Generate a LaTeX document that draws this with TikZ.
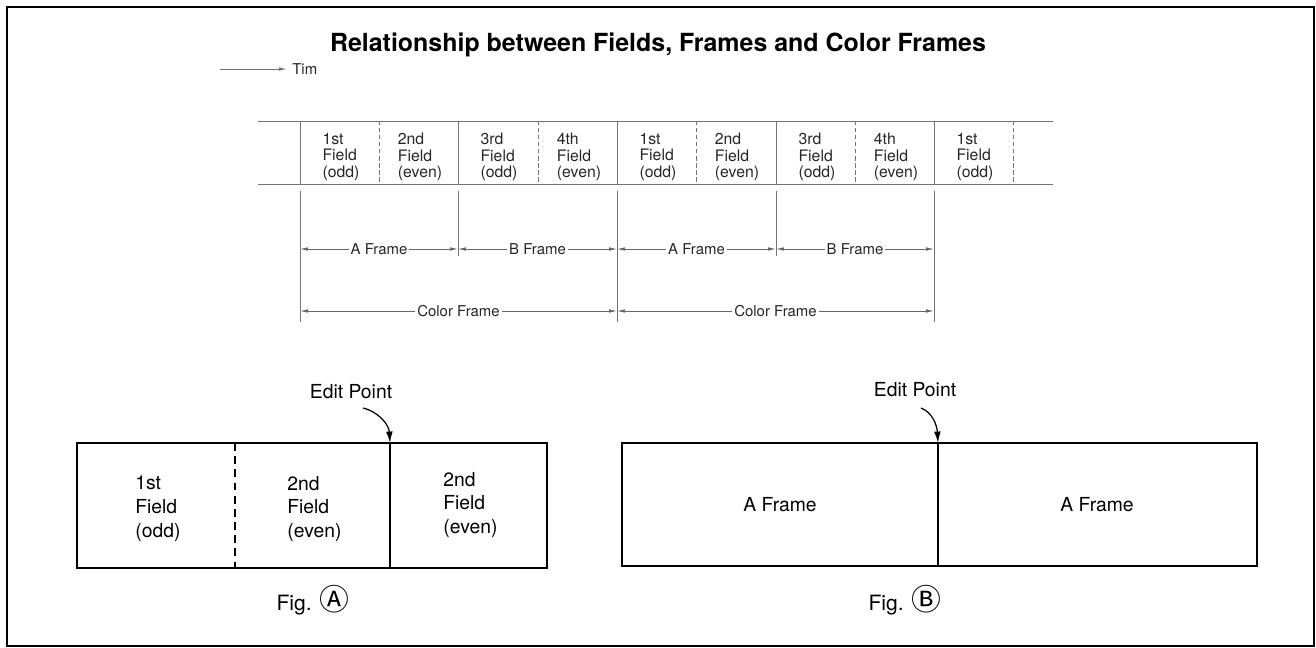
\documentclass[tikz,border=0pt]{standalone}
\usepackage{fontspec}
\setmainfont{TeX Gyre Heros}
\newfontfamily\circfont{Noto Sans CJK SC}
\usetikzlibrary{arrows.meta}
\begin{document}
\begin{tikzpicture}
    [
    x=0.02cm, y=-0.02cm,
    strip/.style={draw=black!55, line width=0.5pt},
    half/.style={draw=black!55, line width=0.5pt, dash pattern=on 2.5pt off 1.5pt},
    fieldtxt/.style={font=\fontsize{9}{9.2}\selectfont, align=left, text=black!85, inner sep=0pt},
    dimline/.style={draw=black!60, line width=0.45pt, {Latex[length=4.5pt,width=2pt]}-{Latex[length=4.5pt,width=2pt]}},
    dimtxt/.style={fill=white, inner sep=1.2pt, font=\fontsize{8.5}{10}\selectfont, text=black!85},
    box/.style={draw, line width=1.1pt},
    boxtxt/.style={font=\fontsize{11}{13.6}\selectfont, align=left, inner sep=0pt},
    editarrow/.style={line width=0.7pt, -{Latex[length=6.5pt,width=3.8pt]}},
    caption/.style={font=\fontsize{12}{14}\selectfont}
    ]
    \useasboundingbox (0,0) rectangle (1316,648);
    \draw [line width=1.2pt] (7,7) rectangle (1314,646);

    \node (title) at (658,45) [font=\bfseries\fontsize{14.2}{16}\selectfont] {Relationship between Fields, Frames and Color Frames};

    % time axis
    \coordinate (t0) at (220,69);
    \node (tim) at (292,69) [anchor=west, dimtxt, inner sep=0pt] {Tim};
    \draw [strip, -{Latex[length=4.5pt,width=2pt]}] (t0) to ([xshift=-1mm]tim.west);

    % field strip
    \draw [strip] (258,121) -- (1053,121);
    \draw [strip] (258,184) -- (1053,184);
    \draw [strip] (300,121) -- (300,184);
    \draw [strip] (458,121) -- (458,184);
    \draw [strip] (617,121) -- (617,184);
    \draw [strip] (776,121) -- (776,184);
    \draw [strip] (934,121) -- (934,184);
    \draw [half] (379,121) -- (379,184);
    \draw [half] (538,121) -- (538,184);
    \draw [half] (696,121) -- (696,184);
    \draw [half] (855,121) -- (855,184);
    \draw [half] (1013,121) -- (1013,184);

    \node (f1) at (341,157) [fieldtxt] {1st\\Field\\(odd)};
    \node (f2) at (420,157) [fieldtxt] {2nd\\Field\\(even)};
    \node (f3) at (499,157) [fieldtxt] {3rd\\Field\\(odd)};
    \node (f4) at (579,157) [fieldtxt] {4th\\Field\\(even)};
    \node (f5) at (658,157) [fieldtxt] {1st\\Field\\(odd)};
    \node (f6) at (737,157) [fieldtxt] {2nd\\Field\\(even)};
    \node (f7) at (817,157) [fieldtxt] {3rd\\Field\\(odd)};
    \node (f8) at (896,157) [fieldtxt] {4th\\Field\\(even)};
    \node (f9) at (975,157) [fieldtxt] {1st\\Field\\(odd)};

    % frame boundaries
    \draw [strip] (300,191) -- (300,322);
    \draw [strip] (458,191) -- (458,256);
    \draw [strip] (617,191) -- (617,322);
    \draw [strip] (776,191) -- (776,256);
    \draw [strip] (934,191) -- (934,322);

    \coordinate (d0) at (300,249);
    \coordinate (d1) at (458,249);
    \coordinate (d2) at (617,249);
    \coordinate (d3) at (776,249);
    \coordinate (d4) at (934,249);
    \coordinate (c0) at (300,311);
    \coordinate (c1) at (617,311);
    \coordinate (c2) at (934,311);

    \draw [dimline] (d0) to node (fa1) [dimtxt] {A Frame} (d1);
    \draw [dimline] (d1) to node (fb1) [dimtxt] {B Frame} (d2);
    \draw [dimline] (d2) to node (fa2) [dimtxt] {A Frame} (d3);
    \draw [dimline] (d3) to node (fb2) [dimtxt] {B Frame} (d4);
    \draw [dimline] (c0) to node (cf1) [dimtxt] {Color Frame} (c1);
    \draw [dimline] (c1) to node (cf2) [dimtxt] {Color Frame} (c2);

    % Fig. A
    \draw [box] (77,443) rectangle (547,568);
    \draw [box, dash pattern=on 4.5pt off 3pt] (235,443) -- (235,568);
    \draw [box] (390,443) -- (390,568);
    \node (a1) at (135,509) [boxtxt, anchor=west] {1st\\Field\\(odd)};
    \node (a2) at (287,509) [boxtxt, anchor=west] {2nd\\Field\\(even)};
    \node (a3) at (443,505) [boxtxt, anchor=west] {2nd\\Field\\(even)};
    \node (epa) at (351,392) [font=\fontsize{11}{13}\selectfont] {Edit Point};
    \coordinate (cuta) at (390,443);
    \draw [editarrow] (363,408) .. controls (379,412) and (389,425) .. (cuta);
    \node (figa) at (313,600) [caption] {Fig. {\circfont\fontsize{17}{18}\selectfont Ⓐ}};

    % Fig. B
    \draw [box] (622,443) rectangle (1257,566);
    \draw [box] (938,443) -- (938,566);
    \node (b1) at (780,505) [boxtxt] {A Frame};
    \node (b2) at (1097,505) [boxtxt] {A Frame};
    \node (epb) at (915,390) [font=\fontsize{11}{13}\selectfont] {Edit Point};
    \coordinate (cutb) at (938,443);
    \draw [editarrow] (921,408) .. controls (932,412) and (937,425) .. (cutb);
    \node (figb) at (905,600) [caption] {Fig. {\circfont\fontsize{17}{18}\selectfont Ⓑ}};
\end{tikzpicture}
\end{document}
